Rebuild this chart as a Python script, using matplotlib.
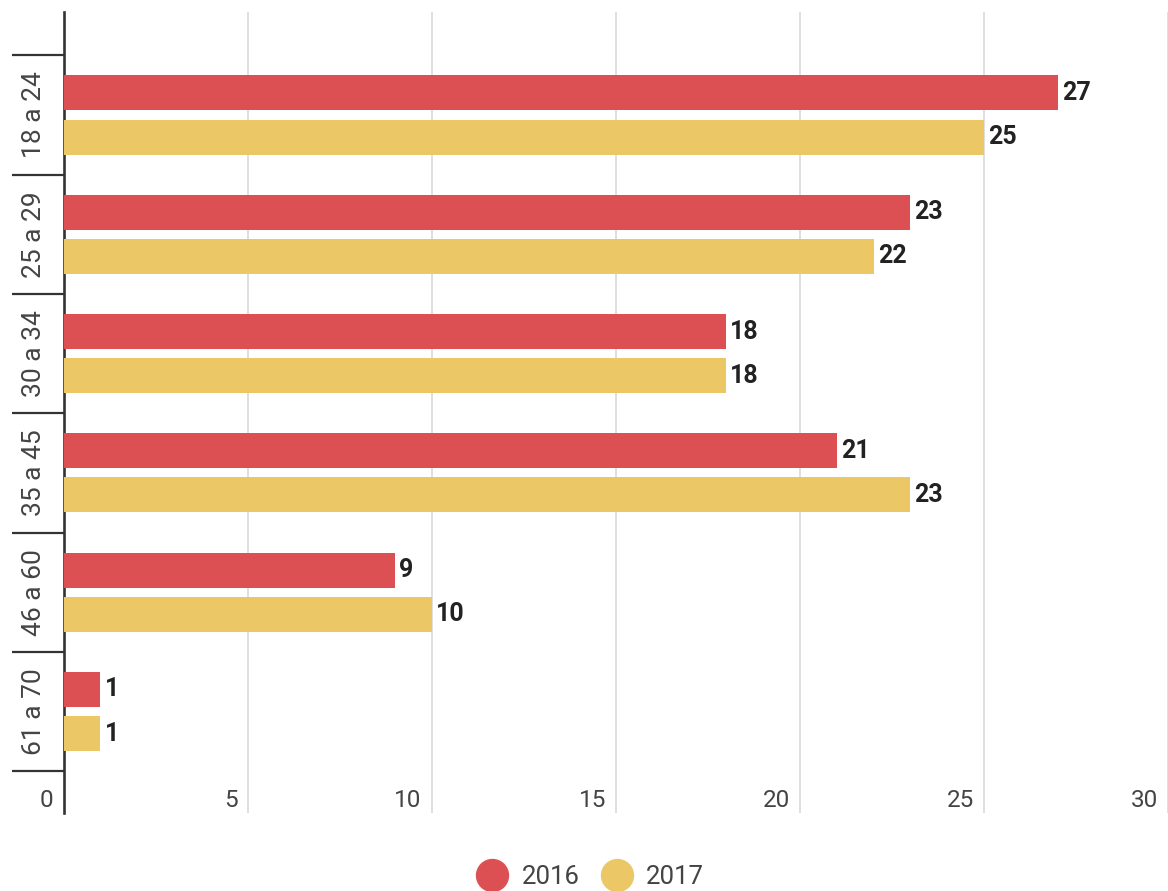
import matplotlib.pyplot as plt
import matplotlib.transforms as mtransforms
import numpy as np
from matplotlib.lines import Line2D

plt.rcParams['font.family'] = ['Roboto', 'DejaVu Sans']

categories = ['18 a 24', '25 a 29', '30 a 34', '35 a 45', '46 a 60', '61 a 70']
vals_2016 = [27, 23, 18, 21, 9, 1]
vals_2017 = [25, 22, 18, 23, 10, 1]
xticks = [0, 5, 10, 15, 20, 25, 30]

red = '#DC4F52'
yellow = '#ECC765'

fig = plt.figure(figsize=(11.68, 8.91), dpi=100)
ax = fig.add_axes([0.0545, 0.0875, 0.9455, 0.899])

y = np.arange(len(categories))
off = 0.185
h = 0.293
b1 = ax.barh(y - off, vals_2016, height=h, color=red, zorder=3)
b2 = ax.barh(y + off, vals_2017, height=h, color=yellow, zorder=3)

for bars in (b1, b2):
    ax.bar_label(bars, padding=3, fontsize=18, fontweight='bold', color='#222222')

ax.set_xlim(0, 29.9)
ax.set_ylim(5.851, -0.863)

# x axis: gridlines full height, labels inside at bottom, right-aligned left of grid
ax.set_xticks(xticks)
ax.set_xticklabels([str(t) for t in xticks])
ax.grid(axis='x', color='#d9d9d9', linewidth=1.2, zorder=0)
ax.tick_params(axis='x', length=0, pad=-17, labelsize=17.5, labelcolor='#444444')
shift = mtransforms.ScaledTranslation(-10 / 100, 0, fig.dpi_scale_trans)
for lbl in ax.get_xticklabels():
    lbl.set_ha('right')
    lbl.set_va('top')
    lbl.set_transform(lbl.get_transform() + shift)

# y axis: category labels rotated, separators as minor ticks
ax.set_yticks(y)
ax.set_yticklabels(categories, rotation=90, va='center')
ax.set_yticks(np.arange(-0.5, len(categories)), minor=True)
ax.tick_params(axis='y', which='major', length=0, pad=13, labelsize=19, labelcolor='#444444')
ax.tick_params(axis='y', which='minor', length=37.5, width=1.6, color='#333333')

for s in ('top', 'right', 'bottom'):
    ax.spines[s].set_visible(False)
ax.spines['left'].set_color('#333333')
ax.spines['left'].set_linewidth(1.9)

handles = [Line2D([], [], marker='o', linestyle='none', markersize=23,
                  markerfacecolor=red, markeredgecolor=red, label='2016'),
           Line2D([], [], marker='o', linestyle='none', markersize=23,
                  markerfacecolor=yellow, markeredgecolor=yellow, label='2017')]
leg = fig.legend(handles=handles, loc='center', bbox_to_anchor=(0.505, 0.0155),
                 ncol=2, frameon=False, fontsize=18.5, handlelength=1.3,
                 handletextpad=0.5, columnspacing=0.8)
for t in leg.get_texts():
    t.set_color('#444444')

fig.savefig('out.png', dpi=100)
